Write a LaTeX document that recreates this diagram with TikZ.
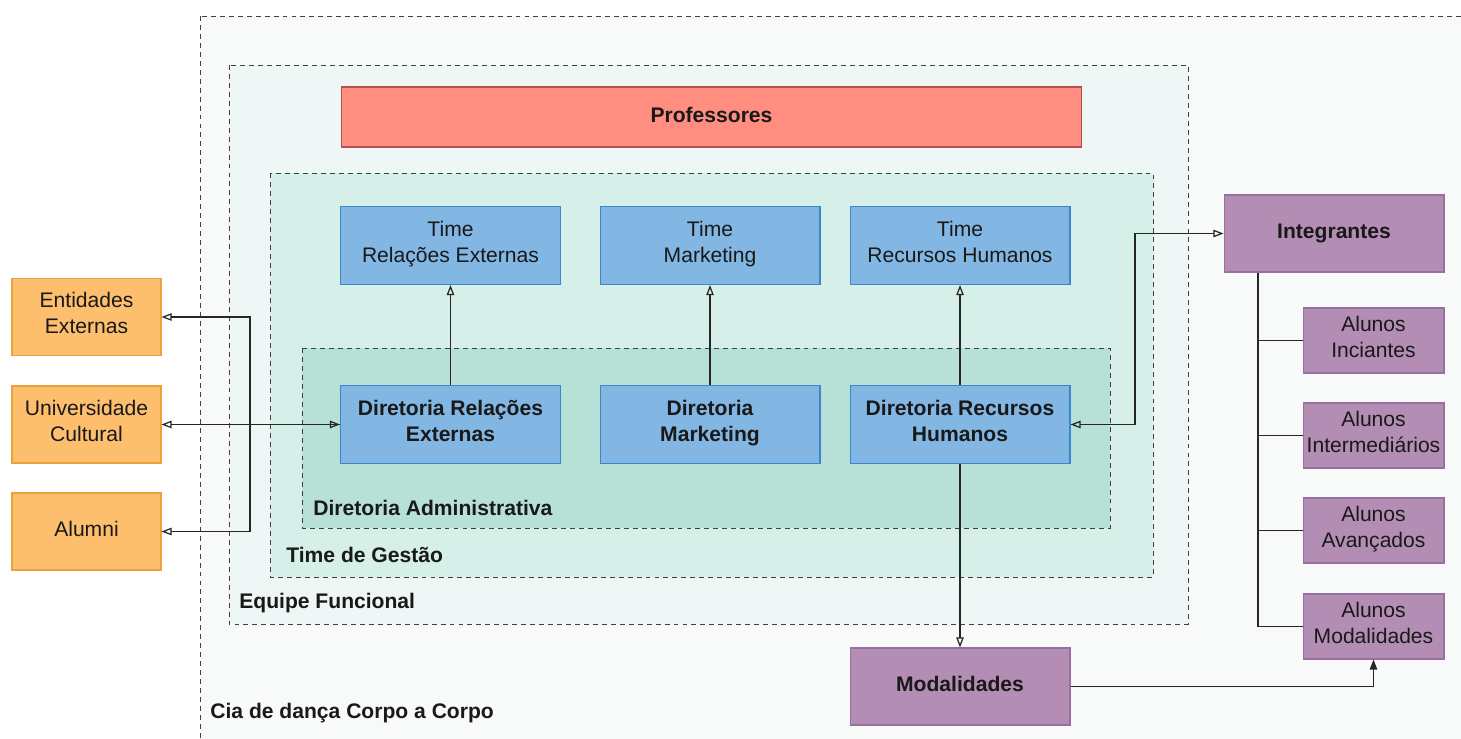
\documentclass[tikz,border=0pt]{standalone}
\usepackage{fontspec}
\setmainfont{Liberation Sans}
\usepackage{xcolor}
\usepackage{tikz}
\usetikzlibrary{positioning,arrows.meta}

\definecolor{outerbg}{HTML}{F8FAFA}
\definecolor{equipebg}{HTML}{EEF6F6}
\definecolor{gestaobg}{HTML}{D6EFE9}
\definecolor{adminbg}{HTML}{B7E0D7}
\definecolor{bluefill}{HTML}{82B7E3}
\definecolor{blueline}{HTML}{3C86CB}
\definecolor{orangefill}{HTML}{FDBF6D}
\definecolor{orangeline}{HTML}{EBA13E}
\definecolor{purplefill}{HTML}{B38DB4}
\definecolor{purpleline}{HTML}{976FA0}
\definecolor{redfill}{HTML}{FF8E80}
\definecolor{redline}{HTML}{B84E4C}

\begin{document}
\begin{tikzpicture}[x=0.02cm, y=-0.02cm,
        font=\fontsize{12}{14.7}\selectfont,
        box/.style={draw, rectangle, line width=0.6pt, align=center, inner sep=2pt, text=black!90,
                    execute at begin node=\strut, execute at end node=\strut},
        team/.style={box, fill=bluefill, draw=blueline, minimum width=4.4cm, minimum height=1.56cm},
        board/.style={team, font=\fontsize{12}{14.7}\selectfont\bfseries},
        ext/.style={box, fill=orangefill, draw=orangeline, minimum width=2.98cm, minimum height=1.54cm},
        member/.style={box, fill=purplefill, draw=purpleline, minimum width=2.82cm, minimum height=1.3cm},
        bigmember/.style={member, minimum width=4.4cm, minimum height=1.54cm, font=\fontsize{12}{14.7}\selectfont\bfseries},
        group/.style={draw=black!75, dash pattern=on 2.8pt off 2.3pt, line width=0.5pt},
        grouplab/.style={font=\fontsize{12}{14.7}\selectfont\bfseries, anchor=west, inner sep=0pt, text=black!90},
        arr/.style={draw=black!85, line width=0.7pt, -{Triangle[open,length=5.7pt,width=4.2pt]}},
        dblarr/.style={arr, {Triangle[open,length=5.7pt,width=4.2pt]}-{Triangle[open,length=5.7pt,width=4.2pt]}},
        fillarr/.style={draw=black!85, line width=0.7pt, -{Triangle[length=5.7pt,width=4.2pt]}},
        link/.style={draw=black!85, line width=0.7pt}
    ]
        \clip (0,0) rectangle (1461,739);
        \fill[white] (0,0) rectangle (1461,739);

        % Group frames (outer to inner)
        \draw[group, fill=outerbg] (200,16) rectangle (1480,760);
        \draw[group, fill=equipebg] (229,65) rectangle (1188,624);
        \draw[group, fill=gestaobg] (270,173) rectangle (1153,577);
        \draw[group, fill=adminbg] (302,348) rectangle (1110,528);

        \node[grouplab] (lblcia) at (210,713) {Cia de dança Corpo a Corpo};
        \node[grouplab] (lblequipe) at (239,603) {Equipe Funcional};
        \node[grouplab] (lblgestao) at (286,555) {Time de Gestão};
        \node[grouplab] (lbladmin) at (313,508) {Diretoria Administrativa};

        % Professores
        \node[box, fill=redfill, draw=redline, minimum width=14.82cm, minimum height=1.2cm,
              font=\fontsize{12}{14.7}\selectfont\bfseries] (prof) at (711.5,117) {Professores};

        % Times
        \node[team] (tre) at (450.5,245.5) {Time\\Relações Externas};
        \node[team] (tmk) at (710,245.5) {Time\\Marketing};
        \node[team] (trh) at (960,245.5) {Time\\Recursos Humanos};

        % Diretorias
        \node[board] (dre) at (450.5,424.5) {Diretoria Relações\\Externas};
        \node[board] (dmk) at (710,424.5) {Diretoria\\Marketing};
        \node[board] (drh) at (960,424.5) {Diretoria Recursos\\Humanos};

        % External entities
        \node[ext] (ent) at (86.5,317) {Entidades\\Externas};
        \node[ext] (uni) at (86.5,424.5) {Universidade\\Cultural};
        \node[ext] (alu) at (86.5,531.5) {Alumni};

        % Integrantes and students
        \node[bigmember] (integ) at (1334,233.5) {Integrantes};
        \node[member] (al1) at (1373.5,340.5) {Alunos\\Inciantes};
        \node[member] (al2) at (1373.5,435.5) {Alunos\\Intermediários};
        \node[member] (al3) at (1373.5,530.5) {Alunos\\Avançados};
        \node[member] (al4) at (1373.5,626.5) {Alunos\\Modalidades};
        \node[bigmember] (mod) at (960,686.5) {Modalidades};

        % Connectors
        \draw[arr] (dre.north) -- (tre.south);
        \draw[arr] (dmk.north) -- (tmk.south);
        \draw[arr] (drh.north) -- (trh.south);

        \coordinate (lbend) at (250,424.5);
        \draw[arr] (dre.west) -- (lbend) |- (ent.east);
        \draw[arr] (dre.west) -- (lbend) |- (alu.east);
        \draw[dblarr] (uni.east) -- (dre.west);

        \coordinate (rbend) at (1135,424.5);
        \draw[dblarr] (drh.east) -- (rbend) |- (integ.west);

        \coordinate (trunk) at (1258,0);
        \draw[link] (trunk |- integ.south) |- (al4.west);
        \draw[link] (trunk |- al1.west) -- (al1.west);
        \draw[link] (trunk |- al2.west) -- (al2.west);
        \draw[link] (trunk |- al3.west) -- (al3.west);

        \draw[arr] (drh.south) -- (mod.north);
        \draw[fillarr] (mod.east) -| (al4.south);
    \end{tikzpicture}
\end{document}
